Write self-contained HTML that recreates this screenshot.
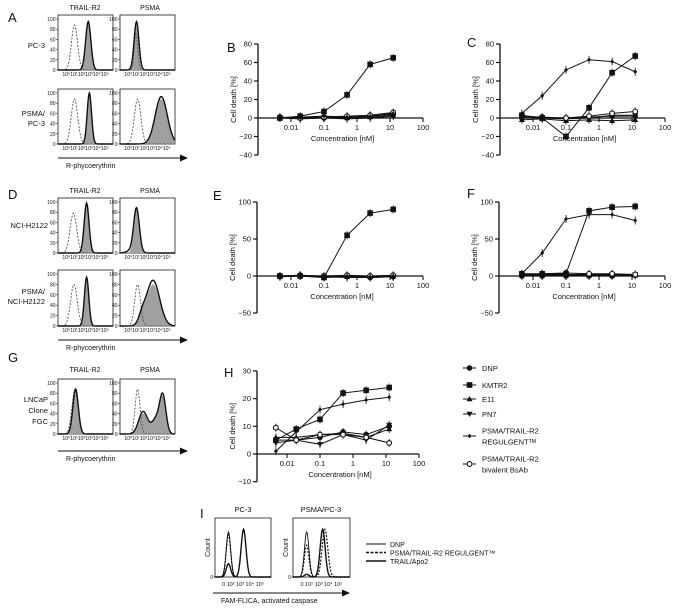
<!DOCTYPE html>
<html><head><meta charset="utf-8"><style>
body{margin:0;background:#fff}
svg{display:block;font-family:"Liberation Sans",sans-serif}
</style></head><body>
<svg id="fig" width="677" height="609" viewBox="0 0 677 609"></svg>
<script>
const concs=[0.0046,0.019,0.1,0.5,2.5,12.5];
const seriesNames=["DNP","KMTR2","E11","PN7","REGULGENT","bivalent"];
const B_DNP=[0,1,0,1,2,4];const B_KMTR2=[0,2,7,25,58,65];const B_E11=[0,0,1,0,1,3];const B_PN7=[0,-1,0,-1,0,2];const B_REG=[0,1,2,1,2,5];const B_BIV=[1,0,1,2,3,6];
const C_DNP=[0,0,0,1,2,2];const C_KMTR2=[3,0,-20,11,49,67];const C_E11=[-2,-1,-3,-2,-3,-2];const C_PN7=[1,0,-1,0,3,3];const C_REG=[5,24,52,63,61,50];const C_BIV=[2,1,0,2,5,7];
const E_DNP=[-1,0,-2,0,-2,-1];const E_KMTR2=[0,0,-2,55,85,90];const E_E11=[0,1,-2,-1,-1,0];const E_PN7=[-1,0,-1,-2,-2,-1];const E_REG=[0,0,-1,0,-1,0];const E_BIV=[0,1,0,1,0,1];
const F_DNP=[0,0,0,0,0,1];const F_KMTR2=[3,3,3,88,93,94];const F_E11=[1,1,1,1,1,1];const F_PN7=[2,2,2,2,2,2];const F_REG=[3,31,77,83,83,75];const F_BIV=[2,3,4,3,3,2];
const H_DNP=[5,5,6,8,7,10];const H_KMTR2=[5,9,12.5,22,23,24];const H_E11=[6,6,7,7.5,6,9];const H_PN7=[4,5,3.5,7,5,10.5];const H_REG=[1,8,16,18,19.5,20.5];const H_BIV=[9.5,5,7,7,6,4];
const xTicks=[0.01,0.1,1,10,100];const xTickLabels=["0.01","0.1","1","10","100"];

const S=document.getElementById('fig');const NS='http://www.w3.org/2000/svg';
function el(t,a,p){const e=document.createElementNS(NS,t);for(const k in a)e.setAttribute(k,a[k]);(p||S).appendChild(e);return e;}
function txt(x,y,s,size,anchor,p,extra){const e=el('text',Object.assign({x:x,y:y,'font-size':size,'text-anchor':anchor||'start',fill:'#111'},extra||{}),p);e.textContent=s;return e;}
function marker(g,type,x,y){let m;
 if(type==="DNP")m=el('circle',{cx:x,cy:y,r:2.8,fill:'#111'},g);
 else if(type==="KMTR2")m=el('rect',{x:x-2.8,y:y-2.8,width:5.6,height:5.6,fill:'#111'},g);
 else if(type==="E11")m=el('path',{d:`M${x},${y-3}L${x+3},${y+2.2}L${x-3},${y+2.2}Z`,fill:'#111'},g);
 else if(type==="PN7")m=el('path',{d:`M${x},${y+3}L${x+3},${y-2.2}L${x-3},${y-2.2}Z`,fill:'#111'},g);
 else if(type==="REGULGENT")m=el('path',{d:`M${x},${y-2.2}L${x+2},${y}L${x},${y+2.2}L${x-2},${y}Z`,fill:'#111'},g);
 else m=el('circle',{cx:x,cy:y,r:2.4,fill:'#fff',stroke:'#111','stroke-width':1.1},g);
 return m;}
function panel(name,ax,x01,y0,unit,yTicks,series){
 const g=el('g',{});
 const X=v=>x01+(Math.log10(v)+2)*33;const Y=v=>y0-v*unit;
 const top=Y(yTicks[yTicks.length-1]),bot=Y(yTicks[0]);
 const ya=el('line',{x1:ax,y1:top,x2:ax,y2:bot,stroke:'#111','stroke-width':1.3},g);
 yTicks.forEach(t=>{el('line',{x1:ax-4,y1:Y(t),x2:ax,y2:Y(t),stroke:'#111','stroke-width':1.2},g);
   txt(ax-6,Y(t)+2.5,(t<0?'\u2212':'')+Math.abs(t),7.5,'end',g);});
 const xa=el('line',{x1:ax,y1:y0,x2:X(100),y2:y0,stroke:'#111','stroke-width':1.3},g);
 xTicks.forEach((t,i)=>{el('line',{x1:X(t),y1:y0,x2:X(t),y2:y0+4,stroke:'#111','stroke-width':1.1},g);txt(X(t),y0+12,xTickLabels[i],7.5,'middle',g);});
 const xt=txt((ax+X(100))/2+2,y0+23,'Concentration [nM]',7.5,'middle',g);
 const yt=txt(0,0,'Cell death [%]',7.5,'middle',g,{transform:`translate(${ax-22},${(top+bot)/2}) rotate(-90)`});
 series.forEach(([type,vals])=>{
  const pts=vals.map((v,i)=>[X(concs[i]),Y(v)]);
  const pl=el('polyline',{points:pts.map(p=>p.join(',')).join(' '),fill:'none',stroke:'#111','stroke-width':1},g);
  
  pts.forEach(p=>{el('line',{x1:p[0],y1:p[1]-4,x2:p[0],y2:p[1]+4,stroke:'#111','stroke-width':0.8},g);
   const m=marker(g,type,p[0],p[1]);});
 });
}
function series(d,k,e,p,r,b){return [["DNP",d],["E11",e],["PN7",p],["bivalent",b],["KMTR2",k],["REGULGENT",r]];}
panel('b',258,291,118,0.925,[-40,-20,0,20,40,60,80],series(B_DNP,B_KMTR2,B_E11,B_PN7,B_REG,B_BIV));
panel('c',500,533,118,0.925,[-40,-20,0,20,40,60,80],series(C_DNP,C_KMTR2,C_E11,C_PN7,C_REG,C_BIV));
panel('e',257,291,276,0.74,[-50,0,50,100],series(E_DNP,E_KMTR2,E_E11,E_PN7,E_REG,E_BIV));
panel('f',499,533,276,0.74,[-50,0,50,100],series(F_DNP,F_KMTR2,F_E11,F_PN7,F_REG,F_BIV));
panel('h',257,287,454,2.77,[-10,0,10,20,30],series(H_DNP,H_KMTR2,H_E11,H_PN7,H_REG,H_BIV));

[["A",8,22],["B",227,52],["C",467,47],["D",8,199],["E",213,200],["F",467,198],["G",8,362],["H",224,377],["I",200,518]].forEach(([l,x,y])=>{const t=txt(x,y,l,13,'start');});

const legItems=[["DNP",368,["DNP"]],["KMTR2",385,["KMTR2"]],["E11",399,["E11"]],["PN7",414,["PN7"]],["REGULGENT",436,["PSMA/TRAIL-R2","REGULGENT\u1d40\u1d39"]],["bivalent",464,["PSMA/TRAIL-R2","bivalent BsAb"]]];
legItems.forEach(([type,y,lines])=>{const g=el('g',{});
 el('line',{x1:463,y1:y,x2:476,y2:y,stroke:'#111','stroke-width':1},g);marker(g,type,469.5,y);
 lines.forEach((s,i)=>txt(482,y+3-(lines.length-1)*5.5+i*11,s,7.5,'start',g));});

function gauss(mu,sig,h){return x=>h*Math.exp(-0.5*((x-mu)/sig)**2);}
function hist(x,y,w,h,comps,dashed,filledOutline,name){
 const g=el('g',{});
 el('rect',{x:x,y:y,width:w,height:h,fill:'#fff',stroke:'#333','stroke-width':0.9},g);
 const X=d=>x+d/5*w, Y=v=>y+h-v/100*(h-4);
 const pts=f=>{const a=[];for(let d=0;d<=5;d+=0.05)a.push([X(d),Y(Math.min(100,f(d)))]);return a;};
 const sum=fs=>d=>fs.reduce((s,f)=>s+f(d),0);
 const fF=sum(comps.map(c=>gauss(...c)));
 const p=pts(fF);
 el('path',{d:'M'+X(0)+','+Y(0)+'L'+p.map(q=>q.join(',')).join('L')+'L'+X(5)+','+Y(0)+'Z',fill:'#a0a0a0'},g);
 if(dashed){const f=sum(dashed.map(c=>gauss(...c)));el('polyline',{points:pts(f).map(q=>q.join(',')).join(' '),fill:'none',stroke:'#555','stroke-width':0.9,'stroke-dasharray':'2,1.5'},g);}
 const fo=filledOutline?sum(filledOutline.map(c=>gauss(...c))):fF;
 el('polyline',{points:pts(fo).map(q=>q.join(',')).join(' '),fill:'none',stroke:'#111','stroke-width':1.4},g);
 [0,20,40,60,80,100].forEach(t=>{el('line',{x1:x-2,y1:Y(t),x2:x,y2:Y(t),stroke:'#333','stroke-width':0.6},g);txt(x-2.5,Y(t)+2,String(t),5,'end',g);});
 txt(x+w/2,y+h+6,'10\u207010\u00b910\u00b210\u00b310\u207410\u2075',5.2,'middle',g);
}
function arrow(x1,x2,y,label,name){const g=el('g',{});
 el('line',{x1:x1,y1:y,x2:x2-6,y2:y,stroke:'#111','stroke-width':1},g);el('path',{d:`M${x2},${y}L${x2-8},${y-3.5}L${x2-8},${y+3.5}Z`,fill:'#111'},g);
 txt(x1+8,y+10,label,7,'start',g);}
const bx1=58,bx2=120,bw=55;
txt(85,10,'TRAIL-R2',7,'middle');txt(150,10,'PSMA',7,'middle');
txt(45,48,'PC-3',7.5,'end');txt(45,116,'PSMA/',7.5,'end');txt(45,126,'PC-3',7.5,'end');
hist(bx1,15,bw,55,[[2.75,0.24,90]],[[1.5,0.28,88]],[[2.75,0.24,95]],'a-pc3-trail');
hist(bx2,15,bw,55,[[1.5,0.2,88]],[[1.45,0.16,70]],[[1.5,0.22,95]],'a-pc3-psma');
hist(bx1,89,bw,55,[[2.85,0.2,95]],[[1.5,0.3,88]],[[2.85,0.2,100]],'a-psmapc3-trail');
hist(bx2,89,bw,55,[[3.75,0.55,88]],[[1.6,0.3,88]],[[3.75,0.55,93]],'a-psmapc3-psma');
arrow(58,188,158,'R-phycoerythrin','x-arrow-a');
txt(85,193,'TRAIL-R2',7,'middle');txt(150,193,'PSMA',7,'middle');
txt(48,228,'NCI-H2122',7.5,'end');txt(45,294,'PSMA/',7.5,'end');txt(45,304,'NCI-H2122',7.5,'end');
hist(bx1,198,bw,55,[[2.6,0.22,95]],[[1.4,0.3,78]],[[2.6,0.22,98]],'d-h2122-trail');
hist(bx2,198,bw,55,[[1.5,0.24,85]],null,[[1.5,0.26,88],[0.9,0.35,4]],'d-h2122-psma');
hist(bx1,270,bw,56,[[2.6,0.2,92]],[[1.45,0.3,80]],[[2.6,0.2,94]],'d-psmah2122-trail');
hist(bx2,270,bw,56,[[3.0,0.6,80],[2.0,0.3,15]],[[1.6,0.26,80]],[[3.0,0.6,88],[2.0,0.3,15]],'d-psmah2122-psma');
arrow(58,188,340,'R-phycoerythrin','x-arrow-d');
txt(85,372,'TRAIL-R2',7,'middle');txt(150,372,'PSMA',7,'middle');
txt(48,402,'LNCaP',7.5,'end');txt(48,413,'Clone',7.5,'end');txt(48,424,'FGC',7.5,'end');
hist(bx1,379,bw,55,[[1.6,0.25,85]],[[1.55,0.28,88]],[[1.6,0.25,88]],'g-lncap-trail');
hist(bx2,379,bw,55,[[2.1,0.4,40],[3.3,0.4,30],[3.9,0.28,65]],[[1.6,0.22,88]],[[2.1,0.4,44],[3.3,0.4,30],[3.9,0.28,70]],'g-lncap-psma');
arrow(58,188,451,'R-phycoerythrin','x-arrow-g');
function ihist(x,y,w,h,comps,name){const g=el('g',{});
 el('rect',{x:x,y:y,width:w,height:h,fill:'#fff',stroke:'#333','stroke-width':0.9},g);
 const X=d=>x+d/5*w,Y=v=>y+h-v/100*(h-6);
 comps.forEach(([cs,sty])=>{const a=[];for(let d=0;d<=5;d+=0.05){let v=cs.reduce((s,c)=>s+gauss(...c)(d),0);a.push(X(d)+','+Y(v));}
  el('polyline',Object.assign({points:a.join(' '),fill:'none',stroke:'#111'},sty),g);});
 txt(x-2,y+h+2,'0',5,'end',g);el('line',{x1:x-2,y1:y+h,x2:x,y2:y+h,stroke:'#333','stroke-width':0.6},g);
 txt(0,0,'Count',7,'middle',g,{transform:`translate(${x-5},${y+h/2}) rotate(-90)`});
 txt(x+w/2,y+h+9,'0 10\u00b2  10\u00b3  10\u2074  10\u2075',5.5,'middle',g);}
txt(243,512,'PC-3',7.5,'middle');txt(321,512,'PSMA/PC-3',7.5,'middle');
ihist(215,518,56,59,[[[[1.2,0.2,85]],{'stroke-width':0.9}],[[[1.2,0.2,25],[2.55,0.22,90]],{'stroke-width':1.4}],[[[1.2,0.2,80]],{'stroke-width':1.2,'stroke-dasharray':'2,1.5'}]],'i-pc3');
ihist(293,518,57,59,[[[[1.2,0.2,85]],{'stroke-width':0.9}],[[[1.2,0.2,5],[2.6,0.22,90]],{'stroke-width':1.4}],[[[1.2,0.2,60],[2.8,0.25,90]],{'stroke-width':1.2,'stroke-dasharray':'2,1.5'}]],'i-psmapc3');
arrow(213,350,593,'FAM-FLICA, activated caspase','x-arrow-i');
const il=[["DNP",{'stroke-width':0.9}],["PSMA/TRAIL-R2 REGULGENT\u2122",{'stroke-width':1.4,'stroke-dasharray':'3,1.5'}],["TRAIL/Apo2",{'stroke-width':1.6}]];
il.forEach(([s,sty],i)=>{const g=el('g',{});
 el('line',Object.assign({x1:366,y1:544+i*8.5,x2:386,y2:544+i*8.5,stroke:'#111'},sty),g);txt(390,547+i*8.5,s,7,'start',g);});
</script>
</body></html>
